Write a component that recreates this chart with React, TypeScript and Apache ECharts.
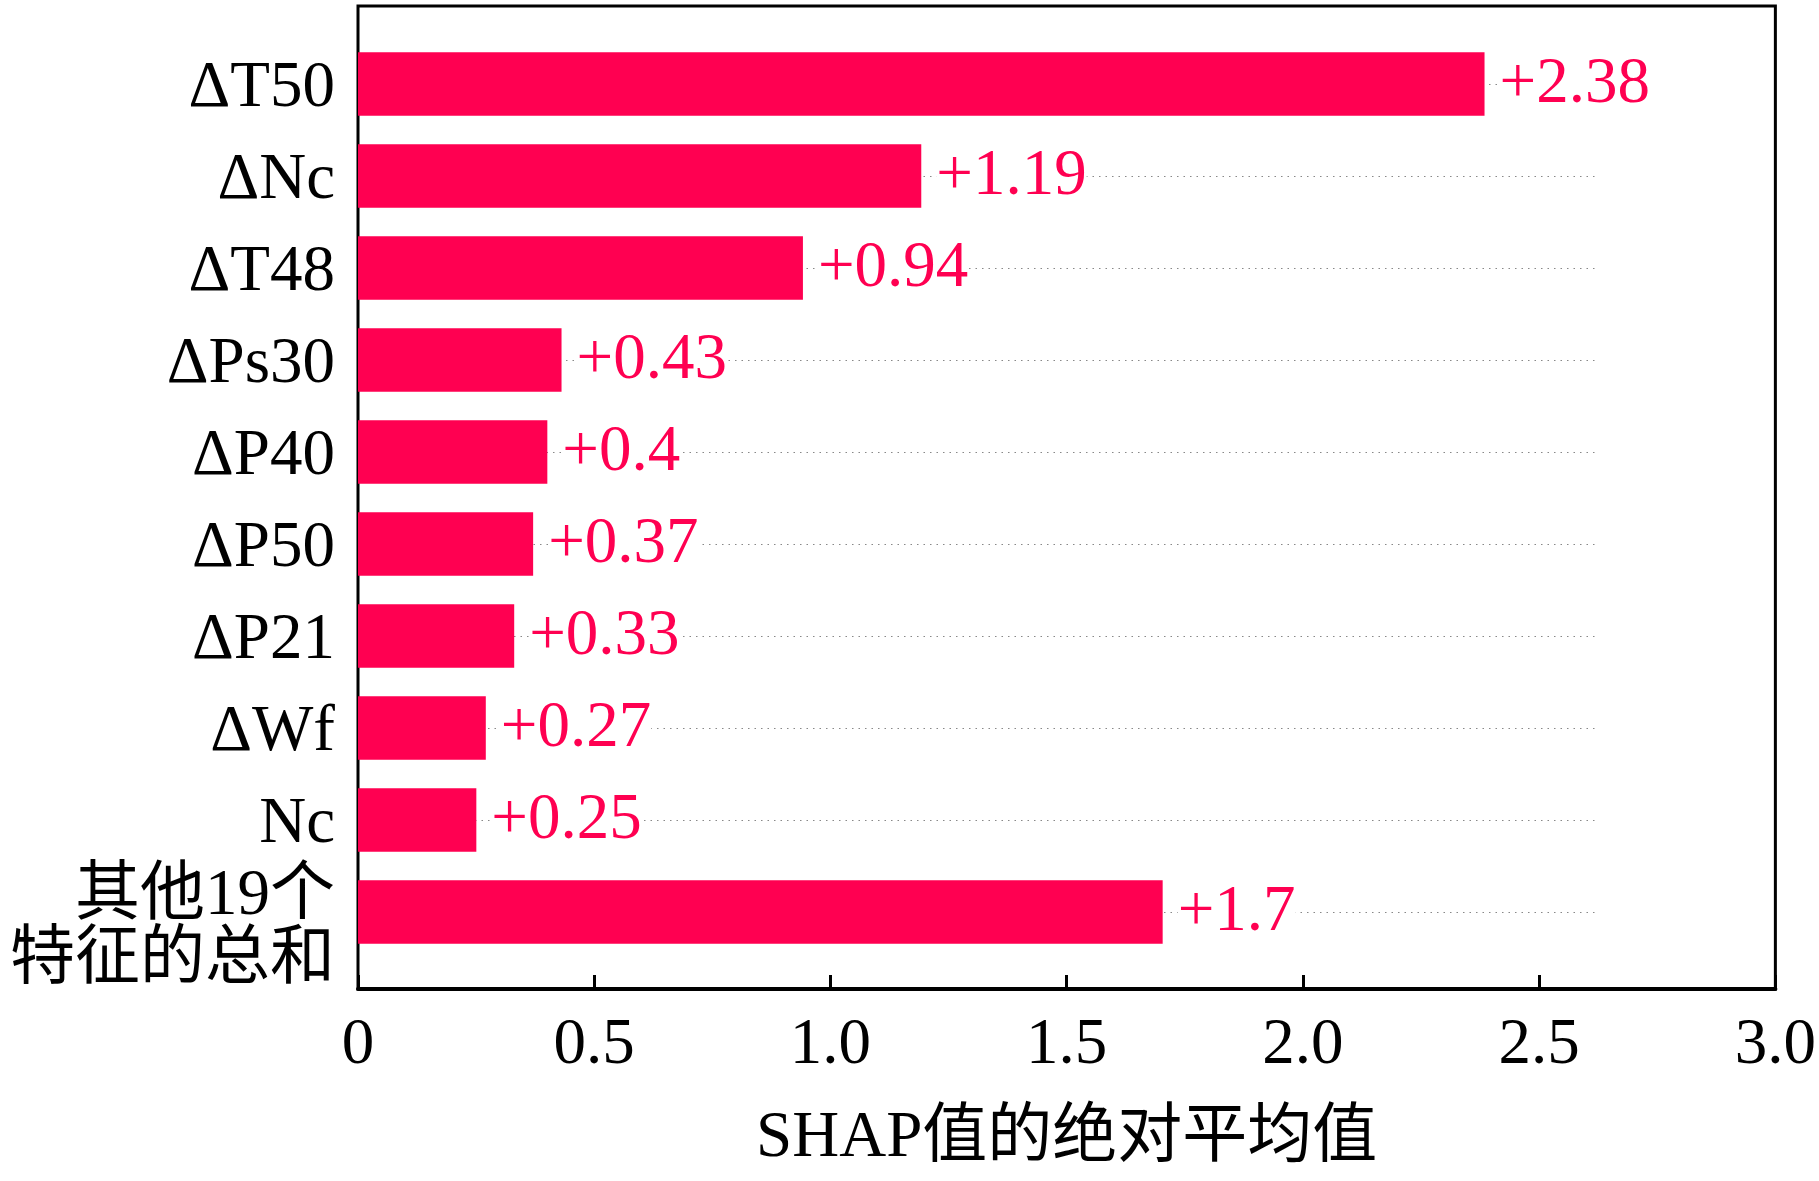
import React, { useEffect, useRef } from "react";
import * as echarts from "echarts";

const FONT = "'Liberation Serif', 'Times New Roman', 'Noto Sans CJK SC', serif";

const categories = [
  "ΔT50",
  "ΔNc",
  "ΔT48",
  "ΔPs30",
  "ΔP40",
  "ΔP50",
  "ΔP21",
  "ΔWf",
  "Nc",
  "其他19个\n特征的总和",
];
const values = [2.38, 1.19, 0.94, 0.43, 0.4, 0.37, 0.33, 0.27, 0.25, 1.7];
const xTickValues = [0, 0.5, 1.0, 1.5, 2.0, 2.5, 3.0];
const xTickLabels = ["0", "0.5", "1.0", "1.5", "2.0", "2.5", "3.0"];
const xAxisTitle = "SHAP值的绝对平均值";
const dotLineEnd = 2.62;

const BAR_COLOR = "#ff0051";

export default function App() {
  const ref = useRef<HTMLDivElement>(null);

  useEffect(() => {
    if (!ref.current) return;
    const chart = echarts.init(ref.current, null, { renderer: "svg" });

    chart.setOption({
      animation: false,
      backgroundColor: "#ffffff",
      grid: [
        {
          left: 358,
          right: 41,
          top: 6,
          bottom: 192,
          show: true,
          borderColor: "#000",
          borderWidth: 3,
          backgroundColor: "transparent",
        },
        { left: 358, right: 41, top: 38, bottom: 223 },
      ],
      xAxis: [
        {
          gridIndex: 0,
          type: "value",
          min: 0,
          max: 3,
          interval: 0.5,
          axisLine: { show: true, lineStyle: { color: "#000", width: 4 } },
          axisTick: {
            show: true,
            inside: true,
            length: 14,
            lineStyle: { color: "#000", width: 3 },
          },
          splitLine: { show: false },
          axisLabel: {
            margin: 19,
            fontSize: 65,
            color: "#000",
            fontFamily: FONT,
            formatter: (v: number) => {
              const i = xTickValues.findIndex((t) => Math.abs(t - v) < 1e-9);
              return i >= 0 ? xTickLabels[i] : "";
            },
          },
          name: xAxisTitle,
          nameLocation: "middle",
          nameGap: 112,
          nameTextStyle: {
            color: "#000",
            fontFamily: FONT,
            fontSize: 65,
          },
        },
        { gridIndex: 1, type: "value", min: 0, max: 3, show: false },
      ],
      yAxis: [
        { gridIndex: 0, type: "value", show: false },
        {
          gridIndex: 1,
          type: "category",
          inverse: true,
          data: categories,
          axisLine: { show: false },
          axisTick: { show: false },
          splitLine: { show: false },
          axisLabel: {
            interval: 0,
            showMinLabel: true,
            showMaxLabel: true,
            margin: 23,
            fontSize: 65,
            color: "#000",
            fontFamily: FONT,
            formatter: (v: string) =>
              v.includes("\n")
                ? "{sp| }\n" + v.split("\n").map((l) => `{cn|${l}}`).join("\n")
                : v,
            rich: {
              sp: { fontSize: 10, lineHeight: 24 },
              cn: {
                fontSize: 65,
                lineHeight: 64,
                fontFamily: FONT,
                color: "#000",
              },
            },
          },
        },
      ],
      series: [
        {
          type: "scatter",
          xAxisIndex: 1,
          yAxisIndex: 1,
          data: [],
          z: 1,
          silent: true,
          markLine: {
            silent: true,
            symbol: "none",
            z: 1,
            label: { show: false },
            lineStyle: { color: "#888888", width: 1.2, type: [1.5, 5] },
            data: categories.map((c) => [
              { coord: [0, c] },
              { coord: [dotLineEnd, c] },
            ]),
          },
        },
        {
          type: "bar",
          xAxisIndex: 1,
          yAxisIndex: 1,
          data: values,
          barWidth: "69%",
          z: 3,
          itemStyle: { color: BAR_COLOR },
          label: {
            show: true,
            position: "right",
            distance: 15,
            offset: [0, -4],
            color: BAR_COLOR,
            fontSize: 65,
            fontFamily: FONT,
            backgroundColor: "#ffffff",
            formatter: (p: any) => "+" + p.value,
          },
        },
      ],
    });

    return () => chart.dispose();
  }, []);

  return (
    <div
      ref={ref}
      style={{
        position: "absolute",
        left: 0,
        top: 0,
        width: 1819,
        height: 1181,
        background: "#fff",
      }}
    />
  );
}
